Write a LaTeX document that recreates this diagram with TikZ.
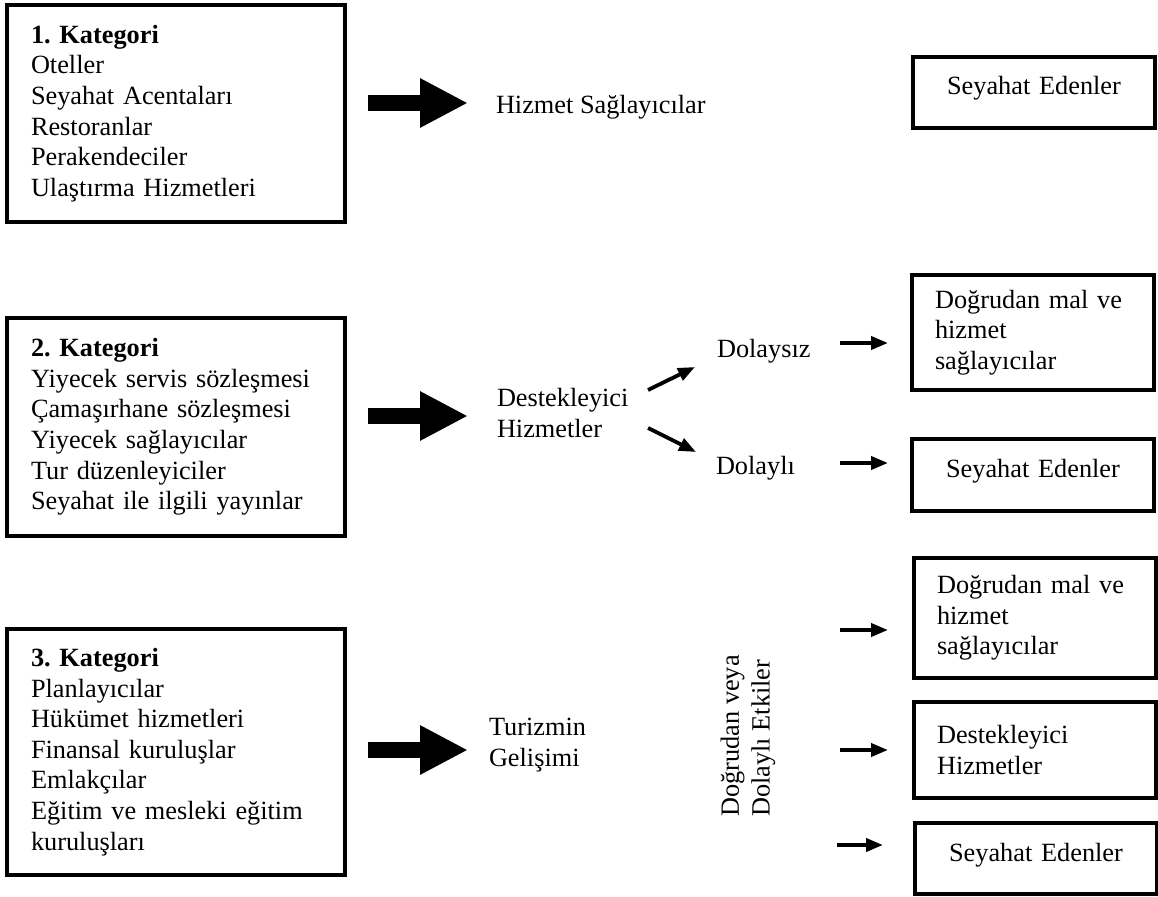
\documentclass[tikz,border=0pt]{standalone}
\usepackage{fontspec}
\setmainfont{Liberation Serif}
\usetikzlibrary{arrows.meta}
\frenchspacing
\begin{document}
\begin{tikzpicture}[x=1pt,y=-1pt,
  every node/.style={font=\fontsize{26.3}{30.6}\selectfont, outer sep=0pt},
  catbox/.style={draw, line width=3.8pt, minimum width=338pt, text width=290pt,
    inner xsep=24pt, inner ysep=0pt, align=left},
  sidebox/.style={draw, line width=3.8pt, minimum width=242pt, text width=196pt,
    inner xsep=23pt, inner ysep=0pt, align=left},
  travbox/.style={sidebox, align=center, text height=18pt, text depth=13pt},
  txt/.style={inner sep=0pt, anchor=west, align=left},
  bigarrow/.style={line width=16pt, -{Triangle[length=48pt,width=46pt]}},
  smallarrow/.style={line width=3.8pt, -{Triangle[length=17pt,width=13pt]}},
]
\useasboundingbox (0,0) rectangle (1158,896);

% ---- category boxes ----
\node[catbox, minimum height=217pt] (k1) at (176,113.5)
  {\textbf{1. Kategori}\\Oteller\\Seyahat Acentaları\\Restoranlar\\Perakendeciler\\Ulaştırma Hizmetleri};
\node[catbox, minimum height=218pt] (k2) at (176,427)
  {\textbf{2. Kategori}\\Yiyecek servis sözleşmesi\\Çamaşırhane sözleşmesi\\Yiyecek sağlayıcılar\\Tur düzenleyiciler\\Seyahat ile ilgili yayınlar};
\node[catbox, minimum height=246pt] (k3) at (176,752)
  {\textbf{3. Kategori}\\Planlayıcılar\\Hükümet hizmetleri\\Finansal kuruluşlar\\Emlakçılar\\Eğitim ve mesleki eğitim\\kuruluşları};

% ---- middle labels ----
\node[txt] (hizmet) at (496,107) {Hizmet Sağlayıcılar};
\node[txt] (destek) at (497,413) {Destekleyici\\Hizmetler};
\node[txt] (dolaysiz) at (717,351) {Dolaysız};
\node[txt] (dolayli) at (716,468) {Dolaylı};
\node[txt] (turizm) at (489,745) {Turizmin\\Gelişimi};
\node[txt, anchor=center, rotate=90] (etki) at (748,736) {Doğrudan veya\\Dolaylı Etkiler};

% ---- right-hand boxes ----
\node[travbox, minimum height=71pt] (r1) at (1034,92.5) {Seyahat Edenler};
\node[sidebox, minimum height=115pt] (r2a) at (1033,332.5) {Doğrudan mal ve\\hizmet\\sağlayıcılar};
\node[travbox, minimum height=72pt] (r2b) at (1033,475) {Seyahat Edenler};
\node[sidebox, minimum height=120pt] (r3a) at (1035,618) {Doğrudan mal ve\\hizmet\\sağlayıcılar};
\node[sidebox, minimum height=96pt] (r3b) at (1035,750) {Destekleyici\\Hizmetler};
\node[travbox, minimum height=71pt] (r3c) at (1036,858.5) {Seyahat Edenler};

% ---- arrow end points ----
\coordinate (b1s) at (368,103);  \coordinate (b1e) at (468,103);
\coordinate (b2s) at (368,416);  \coordinate (b2e) at (468,416);
\coordinate (b3s) at (368,750);  \coordinate (b3e) at (468,750);
\coordinate (d1s) at (648,390);  \coordinate (d1e) at (695,367);
\coordinate (d2s) at (648,428);  \coordinate (d2e) at (696,452);
\coordinate (s1s) at (840,343);  \coordinate (s1e) at (888,343);
\coordinate (s2s) at (840,463);  \coordinate (s2e) at (888,463);
\coordinate (s3s) at (840,630);  \coordinate (s3e) at (888,630);
\coordinate (s4s) at (840,750);  \coordinate (s4e) at (888,750);
\coordinate (s5s) at (837,845);  \coordinate (s5e) at (883,845);

% ---- arrows ----
\draw[bigarrow] (b1s) -- (b1e);
\draw[bigarrow] (b2s) -- (b2e);
\draw[bigarrow] (b3s) -- (b3e);
\draw[smallarrow] (d1s) -- (d1e);
\draw[smallarrow] (d2s) -- (d2e);
\draw[smallarrow] (s1s) -- (s1e);
\draw[smallarrow] (s2s) -- (s2e);
\draw[smallarrow] (s3s) -- (s3e);
\draw[smallarrow] (s4s) -- (s4e);
\draw[smallarrow] (s5s) -- (s5e);
\end{tikzpicture}
\end{document}
